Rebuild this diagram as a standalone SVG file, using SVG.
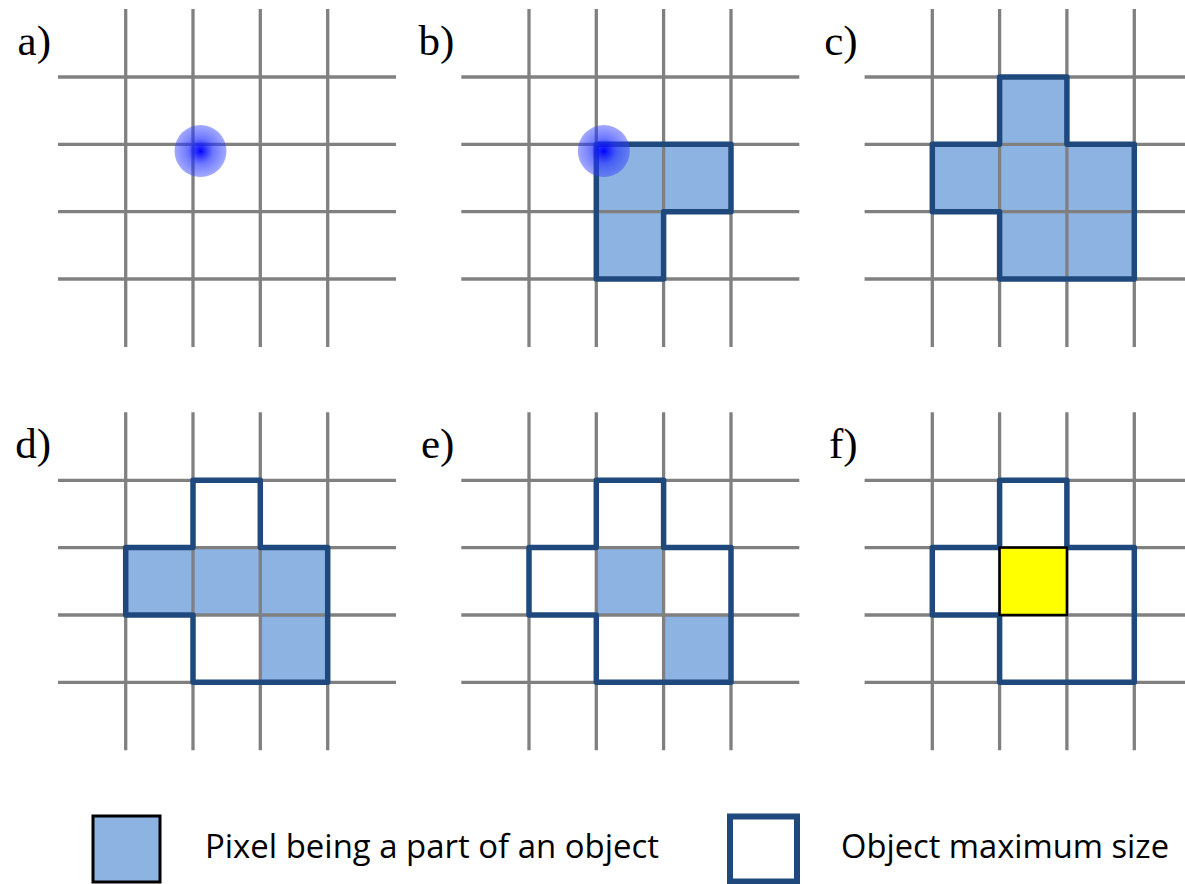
<svg xmlns="http://www.w3.org/2000/svg" xmlns:xlink="http://www.w3.org/1999/xlink" width="1185" height="884" viewBox="0 0 1185 884">
<style>
.grid line{stroke:#808080;stroke-width:3.3}
.fill{fill:#8db3e2;stroke:none}
.outline{fill:none;stroke:#1f497d;stroke-width:5.5;stroke-linejoin:round}
.lbl{font-family:"Liberation Serif",serif;font-size:43px;fill:#000;text-anchor:end}
.leg{font-family:"Open Sans","Liberation Sans",sans-serif;font-size:32px;fill:#000}
</style>
<defs>
<radialGradient id="blob" cx="0.5" cy="0.5" r="0.5">
<stop offset="0" stop-color="#0000ff" stop-opacity="1"/>
<stop offset="0.5" stop-color="#2030ff" stop-opacity="0.65"/>
<stop offset="1" stop-color="#3040ff" stop-opacity="0.45"/>
</radialGradient>
<g id="grid" class="grid">
<line x1="125.7" y1="9" x2="125.7" y2="347"/>
<line x1="193" y1="9" x2="193" y2="347"/>
<line x1="260.3" y1="9" x2="260.3" y2="347"/>
<line x1="327.7" y1="9" x2="327.7" y2="347"/>
<line x1="58" y1="77" x2="396" y2="77"/>
<line x1="58" y1="144.3" x2="396" y2="144.3"/>
<line x1="58" y1="211.7" x2="396" y2="211.7"/>
<line x1="58" y1="279" x2="396" y2="279"/>
</g>
<path id="plus" d="M193,77 H260.3 V144.3 H327.7 V279 H193 V211.7 H125.7 V144.3 H193 Z"/>
</defs>

<g id="panel-a">
<use xlink:href="#grid"/>
<circle cx="200.5" cy="151" r="26" fill="url(#blob)"/>
<text class="lbl" x="51" y="55">a)</text>
</g>

<g id="panel-b" transform="translate(403.3,0)">
<path class="fill" d="M193,144.3 H327.7 V211.7 H260.3 V279 H193 Z"/>
<use xlink:href="#grid"/>
<path class="outline" d="M193,144.3 H327.7 V211.7 H260.3 V279 H193 Z"/>
<circle cx="200.5" cy="151" r="26" fill="url(#blob)"/>
<text class="lbl" x="51" y="55">b)</text>
</g>

<g id="panel-c" transform="translate(806.6,0)">
<path class="fill" d="M193,77 H260.3 V144.3 H327.7 V279 H193 V211.7 H125.7 V144.3 H193 Z"/>
<use xlink:href="#grid"/>
<use xlink:href="#plus" class="outline"/>
<text class="lbl" x="51" y="55">c)</text>
</g>

<g id="panel-d" transform="translate(0,403.3)">
<path class="fill" d="M125.7,144.3 H327.7 V279 H260.3 V211.7 H125.7 Z"/>
<use xlink:href="#grid"/>
<use xlink:href="#plus" class="outline"/>
<text class="lbl" x="51" y="55">d)</text>
</g>

<g id="panel-e" transform="translate(403.3,403.3)">
<rect class="fill" x="193" y="144.3" width="67.3" height="67.4"/>
<rect class="fill" x="260.3" y="211.7" width="67.4" height="67.3"/>
<use xlink:href="#grid"/>
<use xlink:href="#plus" class="outline"/>
<text class="lbl" x="51" y="55">e)</text>
</g>

<g id="panel-f" transform="translate(806.6,403.3)">
<use xlink:href="#grid"/>
<use xlink:href="#plus" class="outline"/>
<rect x="193" y="144.3" width="67.3" height="67.4" fill="#ffff00" stroke="#000" stroke-width="2.5"/>
<text class="lbl" x="51" y="55">f)</text>
</g>

<g id="legend">
<rect x="93" y="816" width="67" height="66" fill="#8db3e2" stroke="#000" stroke-width="3"/>
<text class="leg" x="205" y="858" textLength="454" lengthAdjust="spacingAndGlyphs">Pixel being a part of an object</text>
<rect x="730" y="816.5" width="67" height="65" fill="#fff" stroke="#1f497d" stroke-width="6"/>
<text class="leg" x="841" y="858" textLength="328" lengthAdjust="spacingAndGlyphs">Object maximum size</text>
</g>
</svg>
